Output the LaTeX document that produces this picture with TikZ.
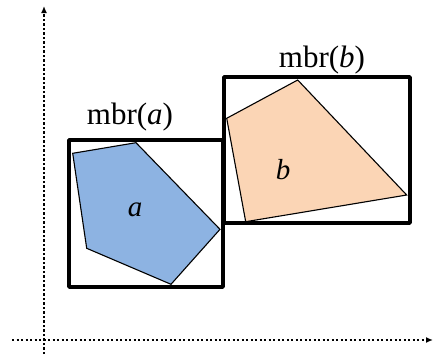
\documentclass[tikz,border=0pt]{standalone}
\usepackage{fontspec}
\setmainfont{Liberation Serif}
\usetikzlibrary{arrows.meta}
\definecolor{polyA}{RGB}{141,179,226}
\definecolor{polyB}{RGB}{251,213,181}
\begin{document}
\begin{tikzpicture}[x=1pt,y=-1pt,
  axis/.style={line width=2.2pt,dash pattern=on 2.2pt off 2.3pt,-{Latex[length=7pt,width=6pt]}},
  mbrbox/.style={draw,line width=3.4pt,line join=round,line cap=round},
  poly/.style={draw,line width=1.1pt,line join=miter},
  lbl/.style={font=\fontsize{31}{31}\selectfont,inner sep=0pt},
  inlbl/.style={font=\fontsize{29}{29}\selectfont\itshape,inner sep=0pt}]
\useasboundingbox (0,0) rectangle (434,354);
% axes
\coordinate (ox) at (12,340);
\coordinate (xe) at (433,340);
\coordinate (oy) at (44,354);
\coordinate (ye) at (44,6);
\draw[axis] (ox) -- (xe);
\draw[axis] (oy) -- (ye);
% polygons
\draw[poly,fill=polyA] (72.7,153.3) -- (136,142.7) -- (220,229.3) -- (171,284.3) -- (86.7,248.3) -- cycle;
\draw[poly,fill=polyB] (226.7,118.3) -- (297.7,80) -- (406.7,195) -- (245.7,221.7) -- cycle;
% mbr boxes
\coordinate (a1) at (69,140);
\coordinate (a2) at (223,287);
\coordinate (b1) at (224,77);
\coordinate (b2) at (410,223);
\draw[mbrbox] (a1) rectangle (a2);
\draw[mbrbox] (b1) rectangle (b2);
% labels
\node[lbl] (la) at (130,117) {mbr(\textit{a})};
\node[lbl] (lb) at (322,60) {mbr(\textit{b})};
\node[inlbl] (ia) at (135,210) {a};
\node[inlbl] (ib) at (283,170) {b};
\end{tikzpicture}
\end{document}
